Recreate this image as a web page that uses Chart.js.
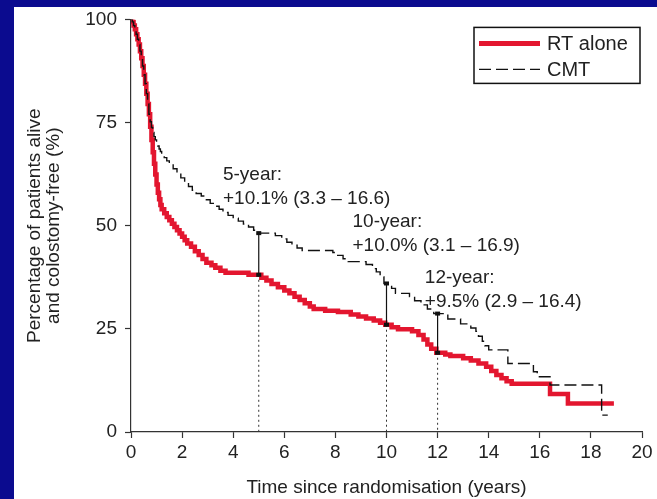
<!DOCTYPE html>
<html>
<head>
<meta charset="utf-8">
<title>Colostomy-free survival</title>
<script src="https://cdn.jsdelivr.net/npm/chart.js@4.4.1/dist/chart.umd.min.js"></script>
<style>
  html, body { margin: 0; padding: 0; background: #0b0b8f; overflow: hidden; }
  #panel { position: absolute; left: 14px; top: 7px; right: 0; bottom: 0; background: #ffffff; }
  #wrap { position: absolute; left: 0; top: 0; width: 657px; height: 499px; }
</style>
</head>
<body>
<div id="panel"></div>
<div id="wrap"><canvas id="chart" width="657" height="499"></canvas></div>
<script>
// Kaplan–Meier step points: year at which each drop happens, and the survival (%) after it
const rtYears = [0, 0.05, 0.1, 0.15, 0.2, 0.25, 0.3, 0.35, 0.4, 0.45, 0.5, 0.55, 0.6, 0.65, 0.7, 0.75, 0.8, 0.85, 0.9, 0.95, 1.0, 1.05, 1.1, 1.15, 1.2, 1.3, 1.4, 1.5, 1.6, 1.7, 1.8, 1.9, 2.0, 2.1, 2.2, 2.35, 2.5, 2.65, 2.8, 2.95, 3.15, 3.3, 3.5, 3.7, 4.6, 5.1, 5.3, 5.5, 5.75, 6.0, 6.2, 6.4, 6.6, 6.8, 7.0, 7.15, 7.6, 8.1, 8.6, 8.9, 9.2, 9.5, 9.75, 9.95, 10.2, 10.45, 11.0, 11.25, 11.45, 11.6, 11.75, 11.95, 12.3, 12.5, 13.0, 13.3, 13.6, 13.9, 14.1, 14.3, 14.5, 14.7, 14.9, 16.4, 17.1, 18.9];
const rtSurvival = [100, 99.4, 98.5, 97.6, 96.4, 95.2, 93.9, 92.3, 90.6, 88.7, 86.6, 84.4, 82.0, 79.5, 77.0, 74.0, 70.8, 67.8, 65.0, 62.4, 60.0, 58.0, 56.4, 55.0, 54.0, 53.0, 52.1, 51.3, 50.5, 49.7, 48.9, 48.1, 47.3, 46.5, 45.7, 44.9, 43.8, 42.9, 41.9, 41.0, 40.4, 39.8, 39.1, 38.6, 38.1, 37.4, 36.7, 35.9, 35.1, 34.3, 33.6, 32.8, 32.0, 31.2, 30.4, 29.8, 29.4, 29.1, 28.5, 28.0, 27.5, 27.0, 26.5, 26.0, 25.4, 24.9, 24.4, 23.5, 22.4, 21.2, 20.2, 19.2, 18.8, 18.4, 17.9, 17.3, 16.6, 15.8, 14.8, 13.8, 13.0, 12.3, 11.7, 9.2, 6.9, 6.9];

const cmtYears = [0, 0.05, 0.1, 0.15, 0.2, 0.25, 0.3, 0.35, 0.4, 0.45, 0.5, 0.55, 0.6, 0.65, 0.7, 0.75, 0.8, 0.85, 0.9, 0.95, 1.0, 1.05, 1.1, 1.15, 1.2, 1.3, 1.4, 1.5, 1.65, 1.8, 1.95, 2.1, 2.25, 2.4, 2.55, 2.75, 2.95, 3.1, 3.25, 3.45, 3.6, 3.8, 4.0, 4.2, 4.4, 4.6, 4.8, 4.95, 5.65, 5.9, 6.1, 6.3, 6.5, 6.7, 7.9, 8.05, 8.3, 8.5, 9.2, 9.45, 9.6, 9.75, 9.9, 10.2, 10.35, 10.9, 11.1, 11.35, 11.6, 11.85, 12.4, 12.9, 13.3, 13.5, 13.6, 13.75, 13.85, 14.0, 14.75, 15.75, 15.9, 16.4, 18.42, 18.66];
const cmtSurvival = [100, 99.4, 98.5, 97.6, 96.4, 95.2, 93.9, 92.3, 90.6, 88.7, 86.6, 84.4, 82.0, 79.5, 77.0, 75.2, 73.8, 72.6, 71.6, 70.8, 70.0, 69.3, 68.6, 68.0, 67.4, 66.5, 65.7, 64.9, 63.8, 62.7, 61.6, 60.5, 59.5, 58.6, 57.8, 57.2, 56.3, 55.4, 54.7, 54.0, 53.2, 52.5, 51.8, 51.1, 50.4, 49.7, 48.9, 48.2, 47.6, 46.8, 46.0, 45.3, 44.6, 44.0, 43.5, 42.8, 42.0, 41.3, 40.6, 39.6, 38.8, 37.6, 36.0, 34.8, 33.6, 32.8, 31.8, 30.8, 29.8, 28.7, 27.4, 26.2, 25.2, 24.4, 23.2, 22.0, 20.9, 19.9, 16.6, 14.6, 13.4, 11.4, 4.1, 4.1];

const seriesNames = ['RT alone', 'CMT'];
const xTickValues = [0, 2, 4, 6, 8, 10, 12, 14, 16, 18, 20];
const yTickValues = [0, 25, 50, 75, 100];

// Landmark comparisons and their captions
const landmarkYears = [5, 10, 12];
const landmarkCaptions = [
  ['5-year:', '+10.1% (3.3 \u2013 16.6)'],
  ['10-year:', '+10.0% (3.1 \u2013 16.9)'],
  ['12-year:', '+9.5% (2.9 \u2013 16.4)']
];

const FONT = "'Liberation Sans', Arial, Helvetica, sans-serif";
const INK = '#222222';
const RED = '#e3162f';

const toPoints = (xs, ys) => xs.map((x, i) => ({ x: x, y: ys[i] }));
const valueAt = (xs, ys, t) => {
  let v = ys[0];
  for (let i = 0; i < xs.length; i++) { if (xs[i] <= t) v = ys[i]; }
  return v;
};

// Caption anchor (data units) for each landmark: left edge, centre of first line
const captionAnchors = [
  { x: 3.6, y: 62.4 },
  { x: 8.67, y: 51.0 },
  { x: 11.5, y: 37.3 }
];

const landmarkPlugin = {
  id: 'landmarks',
  afterDatasetsDraw(chart) {
    const ctx = chart.ctx;
    const xs = chart.scales.x, ys = chart.scales.y;
    ctx.save();
    landmarkYears.forEach((t) => {
      const px = xs.getPixelForValue(t);
      const yTop = ys.getPixelForValue(valueAt(cmtYears, cmtSurvival, t));
      const yLow = ys.getPixelForValue(valueAt(rtYears, rtSurvival, t));
      const yZero = ys.getPixelForValue(0);
      // dotted drop to the time axis
      ctx.strokeStyle = '#333';
      ctx.lineWidth = 1;
      ctx.setLineDash([2, 3]);
      ctx.beginPath();
      ctx.moveTo(px, yLow);
      ctx.lineTo(px, yZero);
      ctx.stroke();
      // solid difference bar
      ctx.setLineDash([]);
      ctx.strokeStyle = '#111';
      ctx.lineWidth = 1.2;
      ctx.beginPath();
      ctx.moveTo(px, yTop);
      ctx.lineTo(px, yLow);
      ctx.stroke();
      ctx.fillStyle = '#111';
      ctx.fillRect(px - 2.5, yTop - 2, 5, 4);
      ctx.fillRect(px - 2.5, yLow - 2, 5, 4);
    });
    // captions
    ctx.fillStyle = INK;
    ctx.font = '19px ' + FONT;
    ctx.textAlign = 'left';
    ctx.textBaseline = 'middle';
    landmarkCaptions.forEach((lines, i) => {
      const a = captionAnchors[i];
      const x = xs.getPixelForValue(a.x);
      const y = ys.getPixelForValue(a.y);
      lines.forEach((line, k) => ctx.fillText(line, x, y + k * 24));
    });
    ctx.restore();
  }
};

// Boxed legend in the upper-right corner of the plot
const boxLegendPlugin = {
  id: 'boxLegend',
  afterDraw(chart) {
    const ctx = chart.ctx;
    const area = chart.chartArea;
    const w = 166, h = 56;
    const left = area.right - w - 2, top = area.top + 8;
    ctx.save();
    ctx.fillStyle = '#fff';
    ctx.fillRect(left, top, w, h);
    ctx.strokeStyle = '#111';
    ctx.lineWidth = 1.5;
    ctx.strokeRect(left, top, w, h);
    chart.data.datasets.forEach((ds, i) => {
      const y = top + 16 + i * 26;
      ctx.strokeStyle = ds.borderColor;
      ctx.lineWidth = ds.legendWidth;
      ctx.setLineDash(ds.borderDash || []);
      ctx.beginPath();
      ctx.moveTo(left + 5, y);
      ctx.lineTo(left + 66, y);
      ctx.stroke();
      ctx.setLineDash([]);
      ctx.fillStyle = INK;
      ctx.font = '20px ' + FONT;
      ctx.textAlign = 'left';
      ctx.textBaseline = 'middle';
      ctx.fillText(ds.label, left + 73, y + 1);
    });
    ctx.restore();
  }
};

new Chart(document.getElementById('chart'), {
  type: 'line',
  data: {
    datasets: [
      {
        label: seriesNames[0],
        data: toPoints(rtYears, rtSurvival),
        borderColor: RED,
        borderWidth: 4.5,
        legendWidth: 5,
        stepped: 'before',
        pointRadius: 0,
        fill: false,
        order: 2
      },
      {
        label: seriesNames[1],
        data: toPoints(cmtYears, cmtSurvival),
        borderColor: '#111111',
        borderWidth: 1.4,
        legendWidth: 1.4,
        borderDash: [12, 5],
        stepped: 'before',
        pointRadius: 0,
        fill: false,
        order: 1
      }
    ]
  },
  options: {
    responsive: false,
    animation: false,
    layout: { padding: { top: 19, right: 15, bottom: 0, left: 0 } },
    plugins: { legend: { display: false }, tooltip: { enabled: false } },
    scales: {
      x: {
        type: 'linear',
        min: 0,
        max: 20,
        afterBuildTicks: (s) => { s.ticks = xTickValues.map(v => ({ value: v })); },
        afterFit: (s) => { s.height = 67; },
        ticks: { color: INK, font: { family: FONT, size: 19 }, padding: 3, maxRotation: 0 },
        grid: { drawOnChartArea: false, drawTicks: true, tickLength: 6, tickColor: '#333', tickWidth: 1.2 },
        border: { color: '#333', width: 1.2 },
        title: {
          display: true,
          text: 'Time since randomisation (years)',
          color: INK,
          font: { family: FONT, size: 19, lineHeight: 1.2 },
          padding: { top: 0, bottom: 0 }
        }
      },
      y: {
        type: 'linear',
        min: 0,
        max: 100,
        afterBuildTicks: (s) => { s.ticks = yTickValues.map(v => ({ value: v })); },
        afterFit: (s) => { s.width = 131; },
        ticks: { color: INK, font: { family: FONT, size: 19 }, padding: 8 },
        grid: { drawOnChartArea: false, drawTicks: true, tickLength: 6, tickColor: '#333', tickWidth: 1.2 },
        border: { color: '#333', width: 1.2 },
        title: {
          display: true,
          text: ['Percentage of patients alive', 'and colostomy-free (%)'],
          color: INK,
          font: { family: FONT, size: 19, lineHeight: 1.0 },
          padding: { top: 25, bottom: 0 }
        }
      }
    }
  },
  plugins: [landmarkPlugin, boxLegendPlugin]
});
</script>
</body>
</html>
